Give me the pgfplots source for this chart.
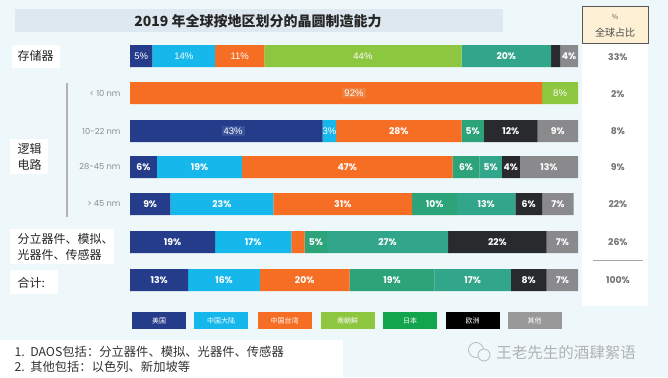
\documentclass[border=0pt]{standalone}
\usepackage{fontspec}
\setmainfont{Liberation Sans}
\newfontfamily\cjk{Noto Sans CJK SC}
\newfontfamily\pop{Poppins}
\usepackage{pgfplots}
\pgfplotsset{compat=1.18}
\definecolor{bgblue}{RGB}{238,248,251}
\definecolor{titlebar}{RGB}{221,232,240}
\definecolor{cUS}{RGB}{36,60,138}
\definecolor{cCN}{RGB}{22,183,234}
\definecolor{cTW}{RGB}{245,110,36}
\definecolor{cKRL}{RGB}{141,198,63}
\definecolor{cKRT}{RGB}{44,163,121}
\definecolor{cJP}{RGB}{50,166,138}
\definecolor{cEU}{RGB}{40,42,45}
\definecolor{cOT}{RGB}{138,138,140}
\definecolor{lgJP}{RGB}{18,165,78}
\definecolor{hdr}{RGB}{253,240,212}
\pgfplotsset{lblaxis/.style={at={(130pt,-30pt)}, anchor=north west, scale only axis,
  width=448pt, height=270pt, xmin=0, xmax=100, ymin=30, ymax=300,
  y dir=reverse, hide axis, clip=false}}
\begin{document}
\begin{tikzpicture}
\begin{scope}[x=1pt,y=1pt]
\fill[bgblue] (0,0) rectangle (668,-377);
% title
\fill[titlebar] (15,-9) rectangle (503,-32);
\node[font=\cjk\bfseries\fontsize{14}{16}\selectfont, text=black!85] at (258,-21) {2019 年全球按地区划分的晶圆制造能力};
% header box and right panel
\fill[white] (582,-43) rectangle (648,-306);
\draw[fill=hdr, draw=black!65, line width=0.8pt] (582,-6) rectangle (648,-43);
\node[font=\cjk\fontsize{7}{8}\selectfont, text=black!60] at (615,-17) {\%};
\node[font=\cjk\fontsize{10}{12}\selectfont, text=black!70] at (615,-33) {全球占比};
\draw[black!35, line width=0.8pt] (593,-260) -- (643,-260);
% left white boxes
\fill[white] (12,-45) rectangle (60,-68);
\fill[white] (10,-139) rectangle (48,-174);
\fill[white] (10,-229) rectangle (114,-264);
\fill[white] (10,-270) rectangle (58,-294);
\node[anchor=west, font=\cjk\fontsize{12}{14}\selectfont, text=black!85] at (14,-56) {存储器};
\node[anchor=west, font=\cjk\fontsize{12}{14}\selectfont, text=black!85] at (14,-149) {逻辑};
\node[anchor=west, font=\cjk\fontsize{12}{14}\selectfont, text=black!85] at (14,-165) {电路};
\node[anchor=west, font=\cjk\fontsize{12}{14}\selectfont, text=black!85] at (14,-239) {分立器件、模拟、};
\node[anchor=west, font=\cjk\fontsize{12}{14}\selectfont, text=black!85] at (14,-255) {光器件、传感器};
\node[anchor=west, font=\cjk\fontsize{12}{14}\selectfont, text=black!85] at (14,-283) {合计:};
% logic bracket line
\draw[black!30, line width=1.2pt] (67,-83) -- (67,-217);
\foreach \lab/\yy in {{< 10 nm}/93, {10-22 nm}/131, {28-45 nm}/167, {> 45 nm}/204}
  \node[anchor=east, font=\pop\fontsize{8.3}{9}\selectfont, text=black!45] at (124,-\yy) {\lab};
% footnotes
\fill[white] (0,-340) rectangle (343,-377);
\node[anchor=west, font=\cjk\fontsize{12.3}{14}\selectfont, text=black!80] at (11,-352) {1.\ \ DAOS包括：分立器件、模拟、光器件、传感器};
\node[anchor=west, font=\cjk\fontsize{12.3}{14}\selectfont, text=black!80] at (11,-367) {2.\ \ 其他包括：以色列、新加坡等};
% watermark
\draw[black!28, line width=0.8pt] (476,-350) circle (7.5);
\draw[black!28, line width=0.8pt, fill=bgblue] (484,-355) circle (6);
\node[font=\cjk\fontsize{15.5}{17}\selectfont, text=black!30] at (566,-353) {王老先生的酒肆絮语};
% legend
\foreach \c/\t/\xx in {cUS/美国/159, cCN/中国大陆/221, cTW/中国台湾/284.5, cKRL/南朝鲜/347.5, lgJP/日本/410, black/欧洲/472.5, black!40/其他/534.5}
  \node[fill=\c, minimum width=54pt, minimum height=17pt, inner sep=0pt, text=white, font=\cjk\fontsize{7}{8}\selectfont] at (\xx,-320.5) {\t};
\end{scope}
% ---- bars ----
\begin{axis}[lblaxis, xbar stacked, bar width=22pt]
% rows: memory 56, <10 93, 10-22 131, 28-45 167, >45 204, DAOS 242, total 280
\addplot[fill=cUS, draw=none] coordinates {(5,56) (0,93) (43,131) (6,167) (9,204) (19,242) (13,280)};
\addplot[fill=cCN, draw=none] coordinates {(14,56) (0,93) (3,131) (19,167) (23,204) (17,242) (16,280)};
\addplot[fill=cTW, draw=none] coordinates {(11,56) (92,93) (28,131) (47,167) (31,204) (3,242) (20,280)};
\addplot[fill=cKRL, draw=none] coordinates {(44,56) (8,93) (0,131) (0,167) (0,204) (0,242) (0,280)};
\addplot[fill=cKRT, draw=none] coordinates {(0,56) (0,93) (5,131) (6,167) (10,204) (5,242) (19,280)};
\addplot[fill=cJP, draw=none] coordinates {(20,56) (0,93) (0,131) (5,167) (13,204) (27,242) (17,280)};
\addplot[fill=cEU, draw=none] coordinates {(2,56) (0,93) (12,131) (4,167) (6,204) (22,242) (8,280)};
\addplot[fill=cOT, draw=none] coordinates {(4,56) (0,93) (9,131) (13,167) (7,204) (7,242) (7,280)};
\end{axis}
% ---- labels ----
\begin{axis}[lblaxis]
\addplot[sharp plot, draw=none, mark=none, nodes near coords, point meta=explicit symbolic,
  nodes near coords style={anchor=center, text=white, inner sep=2pt, fill={rgb,255:red,55;green,80;blue,152}, font=\fontsize{9.5}{10}\selectfont}]
  coordinates {(23,131)[43\%]};
\addplot[sharp plot, draw=none, mark=none, nodes near coords, point meta=explicit symbolic,
  nodes near coords style={anchor=center, text=white, inner sep=2pt, fill={rgb,255:red,240;green,128;blue,62}, font=\fontsize{9.5}{10}\selectfont}]
  coordinates {(50,93)[92\%]};
\addplot[sharp plot, draw=none, mark=none, nodes near coords, point meta=explicit symbolic,
  nodes near coords style={anchor=center, text=white, font=\fontsize{9.5}{10}\selectfont}]
  coordinates {(2.5,56)[5\%] (12,56)[14\%] (24.5,56)[11\%] (52,56)[44\%] (96,93)[8\%] (44.5,131)[3\%]};
\addplot[sharp plot, draw=none, mark=none, nodes near coords, point meta=explicit symbolic,
  nodes near coords style={anchor=center, text=white, font=\pop\bfseries\fontsize{9.3}{10}\selectfont}]
  coordinates {(84,56)[20\%] (98,56)[4\%]
  (60,131)[28\%] (76.5,131)[5\%] (85,131)[12\%] (95.5,131)[9\%]
  (3,167)[6\%] (15.5,167)[19\%] (48.5,167)[47\%] (75,167)[6\%] (80.5,167)[5\%] (85,167)[4\%] (93.5,167)[13\%]
  (4.5,204)[9\%] (20.5,204)[23\%] (47.5,204)[31\%] (68,204)[10\%] (79.5,204)[13\%] (89,204)[6\%] (95.5,204)[7\%]
  (9.5,242)[19\%] (27.5,242)[17\%] (41.5,242)[5\%] (57.5,242)[27\%] (82,242)[22\%] (96.5,242)[7\%]
  (6.5,280)[13\%] (21,280)[16\%] (39,280)[20\%] (58.5,280)[19\%] (76.5,280)[17\%] (89,280)[8\%] (96.5,280)[7\%]};
% global share column
\addplot[sharp plot, draw=none, mark=none, nodes near coords, point meta=explicit symbolic,
  nodes near coords style={anchor=center, text=black!55, font=\pop\bfseries\fontsize{9.3}{10}\selectfont}]
  coordinates {(108.9,57)[33\%] (108.9,94)[2\%] (108.9,131)[8\%] (108.9,167)[9\%] (108.9,204)[22\%] (108.9,242)[26\%] (108.9,280)[100\%]};
\end{axis}
\end{tikzpicture}
\end{document}
